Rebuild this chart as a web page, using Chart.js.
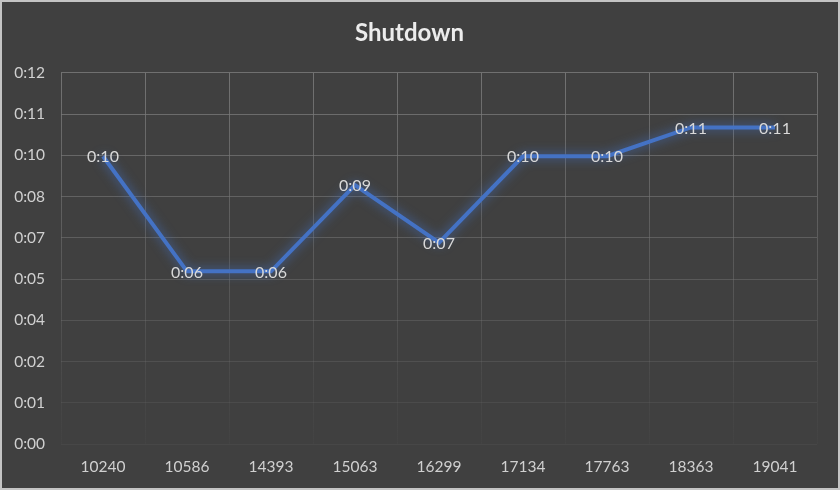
<!DOCTYPE html>
<html>
<head>
<meta charset="utf-8">
<script src="https://cdn.jsdelivr.net/npm/chart.js@4.4.1/dist/chart.umd.min.js"></script>
<style>
    html, body { margin: 0; padding: 0; background: #404040; }
    #wrap {
        width: 840px;
        height: 490px;
        box-sizing: border-box;
        border: 2px solid #c4c4c4;
        background: #404040;
    }
</style>
</head>
<body>
<div id="wrap"><canvas id="canvas-chart" width="836" height="486"></canvas></div>
<script>
'use strict'

// test runs (x axis)
let categories = ["10240", "10586", "14393", "15063", "16299", "17134", "17763", "18363", "19041"];

// shutdown time in minutes
let shutdownMinutes = [10, 6, 6, 9, 7, 10, 10, 11, 11];

// the axis labels as they show, one per gridline
let yTickLabels = ["0:00", "0:01", "0:02", "0:04", "0:05", "0:07", "0:08", "0:10", "0:11", "0:12"];
let yStep = 1.4333; // minutes between gridlines

let fontFamily = "Lato, 'Open Sans', sans-serif";

function fmtTime(min) {
    let m = Math.round(min);
    return "0:" + (m < 10 ? "0" + m : m);
}

// glow under the line
let glowPlugin = {
    id: "glow",
    beforeDatasetDraw(chart) {
        let ctx = chart.ctx;
        ctx.save();
        ctx.shadowColor = "rgba(68, 114, 196, 0.9)";
        ctx.shadowBlur = 11;
    },
    afterDatasetDraw(chart) {
        chart.ctx.restore();
    },
};

// value labels sat on each point
let labelPlugin = {
    id: "pointLabels",
    afterDatasetsDraw(chart) {
        let ctx = chart.ctx;
        let meta = chart.getDatasetMeta(0);
        ctx.save();
        ctx.font = "16px " + fontFamily;
        ctx.fillStyle = "#d9d9d9";
        ctx.textAlign = "center";
        ctx.textBaseline = "middle";
        meta.data.forEach(function (pt, i) {
            ctx.fillText(fmtTime(shutdownMinutes[i]), pt.x, pt.y + 1);
        });
        ctx.restore();
    },
};

let chart = document.getElementById("canvas-chart").getContext("2d");

let chart1 = new Chart(chart, {
    type: "line",
    data: {
        labels: categories,
        datasets: [
            {
                label: "Shutdown",
                data: shutdownMinutes,
                borderColor: "#4472c4",
                borderWidth: 4,
                pointRadius: 0,
                tension: 0,
                fill: false,
            },
        ],
    },
    plugins: [glowPlugin, labelPlugin],
    options: {
        responsive: false,
        animation: false,
        layout: { padding: { left: 0, right: 21, top: 0, bottom: 6 } },
        plugins: {
            legend: { display: false },
            tooltip: { enabled: false },
            title: {
                display: true,
                text: "Shutdown",
                color: "#ececec",
                font: { family: fontFamily, size: 24, weight: "bold" },
                padding: { top: 17, bottom: 25 },
            },
        },
        scales: {
            x: {
                offset: true,
                border: { display: false },
                grid: {
                    offset: true,
                    drawTicks: false,
                    color: function (c) {
                        let area = c.chart.chartArea;
                        if (!area) return "#5a5a5a";
                        let g = c.chart.ctx.createLinearGradient(0, area.top, 0, area.bottom);
                        g.addColorStop(0, "rgba(120,120,120,0.9)");
                        g.addColorStop(0.6, "rgba(100,100,100,0.6)");
                        g.addColorStop(1, "rgba(80,80,80,0.2)");
                        return g;
                    },
                },
                ticks: {
                    color: "#d0d0d0",
                    font: { family: fontFamily, size: 15.5 },
                    padding: 14,
                },
                afterFit(scale) { scale.height = 38; },
            },
            y: {
                min: 0,
                max: yStep * (yTickLabels.length - 1),
                border: { display: false },
                afterBuildTicks(scale) {
                    scale.ticks = yTickLabels.map(function (t, i) { return { value: i * yStep }; });
                },
                grid: {
                    drawTicks: false,
                    color: function (c) {
                        let a = 0.12 + 0.75 * (c.index / (yTickLabels.length - 1));
                        return "rgba(120,120,120," + a.toFixed(2) + ")";
                    },
                },
                ticks: {
                    color: "#d0d0d0",
                    font: { family: fontFamily, size: 15.5 },
                    padding: 16,
                    callback: function (v, i) { return yTickLabels[i]; },
                },
                afterFit(scale) { scale.width = 59; },
            },
        },
    },
});
</script>
</body>
</html>
